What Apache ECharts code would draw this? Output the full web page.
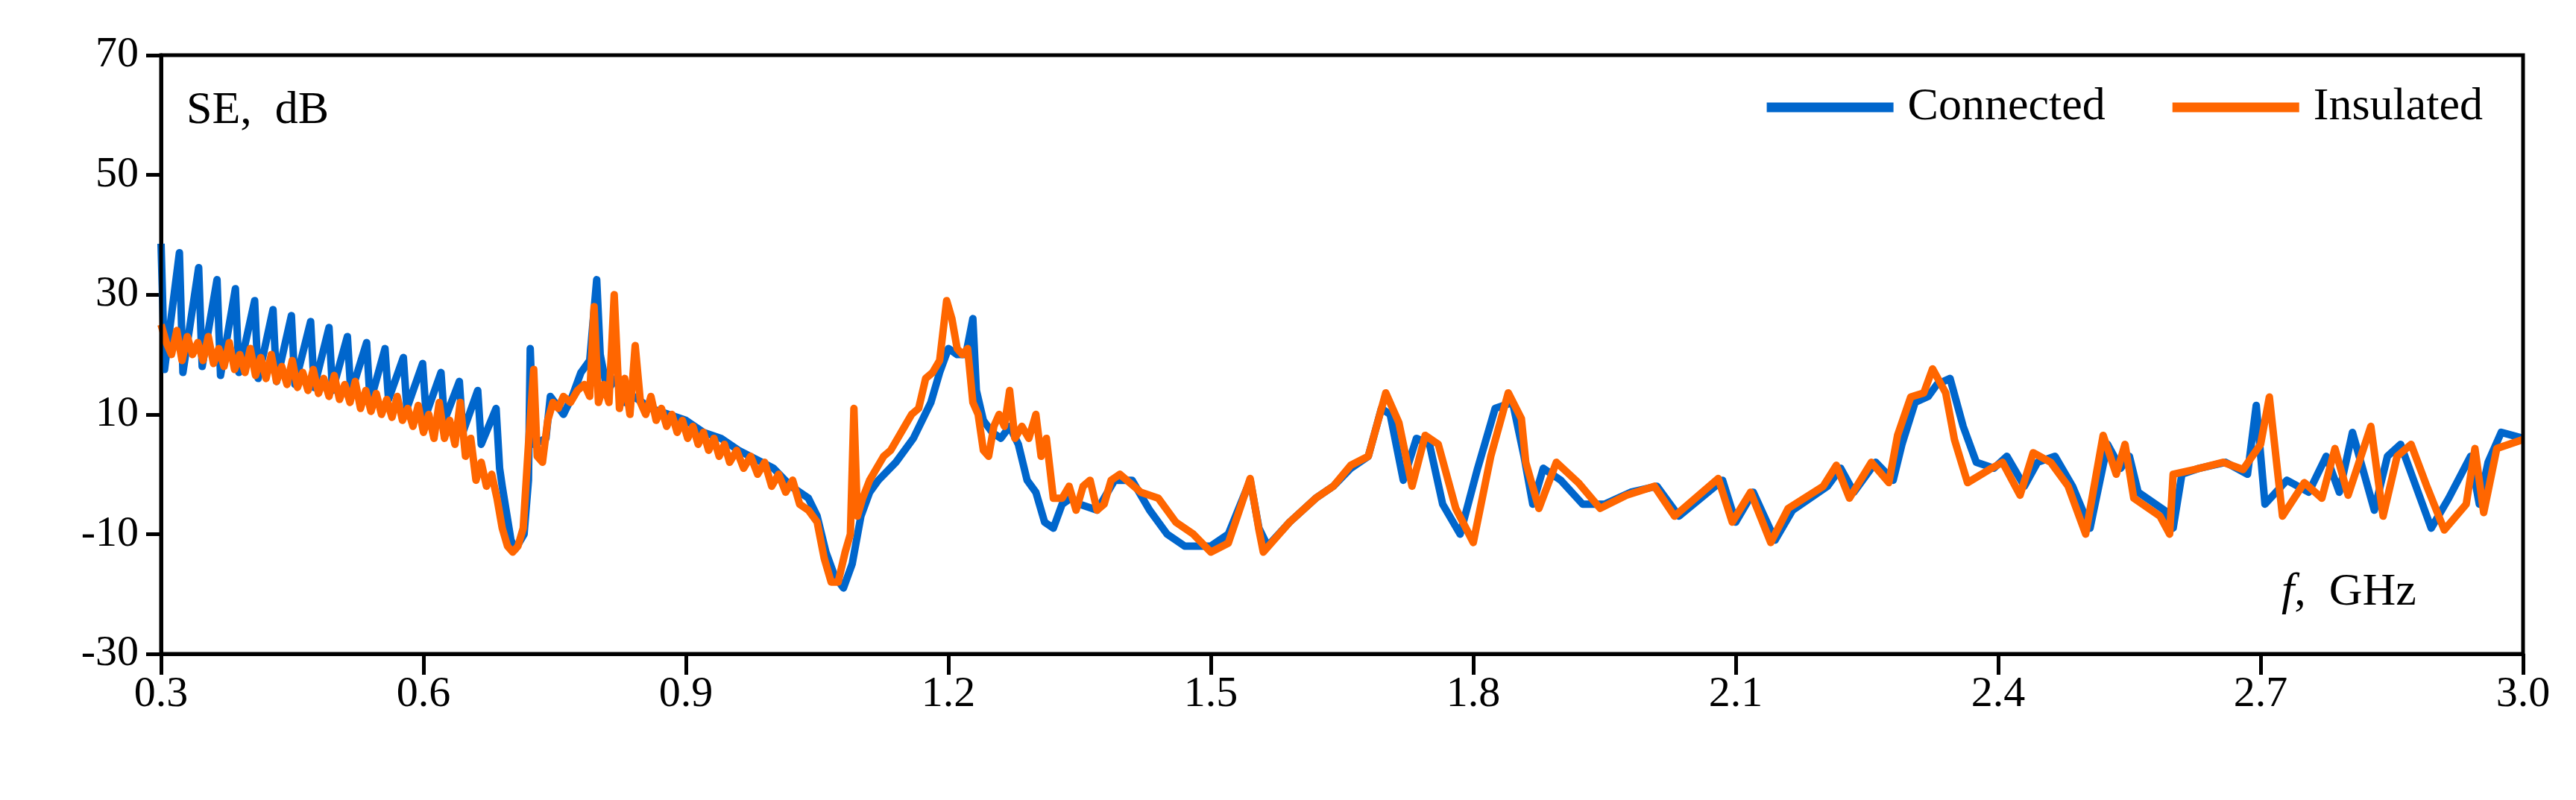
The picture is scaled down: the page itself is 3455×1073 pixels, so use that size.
<!DOCTYPE html>
<html>
<head>
<meta charset="utf-8">
<script src="https://cdn.jsdelivr.net/npm/echarts@6/dist/echarts.min.js"></script>
<style>html,body{margin:0;padding:0;background:#fff}#chart{width:3455px;height:1073px}</style>
</head>
<body>
<div id="chart"></div>
<script>
// 频率 GHz / 屏蔽效能 dB
const connectedF = [
  0.300,0.304,0.321,0.325,0.343,0.347,0.364,0.368,0.385,0.389,0.407,0.411,0.428,0.432,0.449,0.453,
  0.471,0.475,0.492,0.496,0.513,0.517,0.535,0.539,0.556,0.560,0.577,0.581,0.599,0.603,0.620,0.624,
  0.641,0.645,0.662,0.666,0.683,0.687,0.690,0.700,0.705,0.715,0.720,0.722,0.726,0.740,0.745,0.760,
  0.770,0.780,0.790,0.798,0.802,0.810,0.820,0.830,0.840,0.850,0.860,0.880,0.900,0.920,0.940,0.960,
  0.980,1.000,1.020,1.040,1.050,1.060,1.070,1.080,1.090,1.100,1.110,1.120,1.140,1.160,1.180,1.190,
  1.200,1.210,1.220,1.228,1.232,1.240,1.250,1.260,1.270,1.280,1.290,1.300,1.310,1.320,1.330,1.340,
  1.350,1.370,1.390,1.410,1.430,1.450,1.470,1.500,1.520,1.545,1.555,1.565,1.590,1.620,1.640,1.660,
  1.680,1.695,1.705,1.720,1.735,1.750,1.765,1.785,1.805,1.825,1.845,1.858,1.868,1.880,1.900,1.925,
  1.950,1.980,2.010,2.035,2.085,2.100,2.120,2.145,2.165,2.205,2.220,2.235,2.260,2.280,2.290,2.305,
  2.320,2.330,2.345,2.360,2.375,2.395,2.410,2.430,2.445,2.465,2.485,2.505,2.525,2.540,2.550,2.560,
  2.590,2.600,2.610,2.630,2.660,2.685,2.695,2.705,2.730,2.755,2.775,2.790,2.805,2.830,2.845,2.860,
  2.875,2.895,2.915,2.940,2.950,2.960,2.975,3.000
];
const connectedSE = [
  38.5,17.5,37,17,34.5,18,32.5,16.5,31,17,29,16,27.5,15.5,26.5,15,
  25.5,14.5,24.5,14,23,13.5,22,12,21,12.5,19.5,11,18.5,10,17,9,
  15.5,7,14,5,11,1,-2,-11,-12.5,-10,-1,21,5,6,13,10,
  13,17,19,32.5,20,14,16,12,13,12,11,10,9,7,6,4,
  2.5,1,-2,-4,-7,-13,-17,-19,-15,-7,-3,-1,2,6,12,17,
  21,20,20,26,14,9,7,6,8,5,-1,-3,-8,-9,-5,-4,
  -5,-6,-1,-1,-6,-10,-12,-12,-10,-1,-9,-12,-8,-4,-2,1,
  3,11,10,-1,6,5,-5,-10,1,11,12,3,-5,1,-1,-5,
  -5,-3,-2,-7,-1,-8,-3,-11,-6,-2,1,-3,2,-1,5,12,
  13,15,16,8,2,1,3,-2,2,3,-2,-9,5,1,3,-3,
  -6,-9,0,1,2,0,11.5,-5,-1,-3,3,-3,7,-6,3,5,
  -1,-9,-4,3,-5,2,7,6
];
const insulatedF = [
  0.300,0.306,0.312,0.318,0.324,0.330,0.336,0.342,0.348,0.354,0.360,0.366,0.372,0.378,0.384,0.390,
  0.396,0.402,0.408,0.414,0.420,0.426,0.432,0.438,0.444,0.450,0.456,0.462,0.468,0.474,0.480,0.486,
  0.492,0.498,0.504,0.510,0.516,0.522,0.528,0.534,0.540,0.546,0.552,0.558,0.564,0.570,0.576,0.582,
  0.588,0.594,0.600,0.606,0.612,0.618,0.624,0.630,0.636,0.642,0.648,0.654,0.660,0.666,0.672,0.678,
  0.684,0.690,0.696,0.702,0.708,0.714,0.720,0.726,0.730,0.736,0.742,0.748,0.754,0.760,0.768,0.776,
  0.784,0.790,0.795,0.800,0.806,0.812,0.818,0.824,0.830,0.836,0.842,0.848,0.854,0.860,0.866,0.872,
  0.878,0.884,0.890,0.896,0.902,0.908,0.914,0.920,0.926,0.932,0.938,0.944,0.950,0.958,0.966,0.974,
  0.982,0.990,0.998,1.006,1.014,1.022,1.030,1.040,1.050,1.058,1.066,1.074,1.082,1.088,1.092,1.096,
  1.102,1.110,1.118,1.126,1.134,1.142,1.150,1.158,1.166,1.174,1.182,1.190,1.198,1.204,1.210,1.216,
  1.222,1.228,1.234,1.240,1.246,1.252,1.258,1.264,1.270,1.276,1.284,1.292,1.300,1.306,1.312,1.320,
  1.330,1.338,1.346,1.354,1.362,1.370,1.378,1.386,1.396,1.420,1.440,1.460,1.480,1.500,1.520,1.545,
  1.555,1.560,1.590,1.620,1.640,1.660,1.680,1.700,1.715,1.730,1.745,1.760,1.780,1.800,1.820,1.840,
  1.855,1.860,1.875,1.895,1.920,1.945,1.975,2.007,2.030,2.080,2.096,2.117,2.140,2.160,2.200,2.215,
  2.230,2.255,2.275,2.285,2.300,2.315,2.325,2.340,2.350,2.365,2.390,2.405,2.425,2.440,2.460,2.480,
  2.500,2.520,2.535,2.545,2.555,2.585,2.596,2.600,2.625,2.657,2.680,2.700,2.710,2.725,2.750,2.770,
  2.785,2.800,2.826,2.840,2.856,2.872,2.890,2.910,2.935,2.945,2.955,2.970,3.000
];
const insulatedSE = [
  25,22,20,24,19,23,20,22,19,23,18.5,21,18,22,17.5,20,
  17,21,16.5,19.5,16,20,15.5,18,15,19,14.5,17,14,17.5,13.5,16,
  13,16.5,12.5,15,12,15.5,11,14,10.5,13.5,10,12.5,9.5,13,9,11,
  8,11.5,7,10,6,12,6,9,5,12,3,6,-1,2,-2,0,
  -4,-9,-12,-13,-12,-9,5,17.5,3,2,9,12,11,13,12,14,
  15,13,28,12,15,12,30,11,16,10,21.5,12,10,13,9,11,
  8,10,7,9,6,8,5,7,4,6,3,5,2,4,1,3,
  0,2,-2,0,-3,-1,-5,-6,-8,-14,-18,-18,-13,-10,11,-7,
  -4,-1,1,3,4,6,8,10,11,16,17,19,29,26,21,20,
  21,12,10,4,3,8,10,8,14,6,8,6,10,3,6,-4,
  -4,-2,-6,-2,-1,-6,-5,-1,0,-3,-4,-8,-10,-13,-11.5,-0.7,
  -9.3,-13,-8,-4,-2,1.5,3,13.6,8.6,-2,6.5,5,-5.7,-11.4,3,13.6,
  9.3,2,-5.7,2,-1.4,-5.7,-3.5,-2,-7,-0.7,-8,-3,-11.4,-5.7,-2,1.5,
  -4,2,-1.4,6.5,12.9,13.6,17.6,13.6,5.8,-1.4,0.8,2,-3.5,3.6,2,-2,
  -10,6.5,0,5,-4,-7,-10,0,0.8,2,0.8,5,12.9,-7,-1.4,-4,
  4.3,-3.5,8,-7,3,5,-2,-9.3,-5,4.3,-6.4,4.3,5.8
];
const xTicks = [0.3, 3.0];
const yRange = [-30, 70];
const seriesNames = ['Connected', 'Insulated'];
const colors = ['#0066cc', '#ff6600'];

const pair = (f, v) => f.map((x, i) => [x, v[i]]);
const font = 'Liberation Serif';

const chart = echarts.init(document.getElementById('chart'));
chart.setOption({
  animation: false,
  backgroundColor: '#fff',
  textStyle: { fontFamily: font },
  grid: { left: 216, right: 71, top: 74, bottom: 196 },
  legend: {
    data: seriesNames, right: 120, top: 108, icon: 'rect',
    itemWidth: 170, itemHeight: 13, itemGap: 90,
    textStyle: { fontFamily: font, fontSize: 62, color: '#000', padding: [0, 0, 0, 14] }
  },
  xAxis: {
    type: 'value', min: xTicks[0], max: xTicks[1], interval: 0.3,
    axisLine: { show: true, onZero: false, lineStyle: { color: '#000', width: 5 } },
    axisTick: { show: true, length: 28, lineStyle: { color: '#000', width: 5 } },
    axisLabel: { fontSize: 58, color: '#000', margin: 26, formatter: v => v.toFixed(1) },
    splitLine: { show: false }
  },
  yAxis: {
    type: 'value', min: yRange[0], max: yRange[1], interval: 20,
    axisLine: { show: true, lineStyle: { color: '#000', width: 5 } },
    axisTick: { show: true, length: 20, lineStyle: { color: '#000', width: 5 } },
    axisLabel: { fontSize: 58, color: '#000', margin: 30 },
    splitLine: { show: false }
  },
  graphic: [
    { type: 'rect', shape: { x: 216, y: 74, width: 3168, height: 803 }, style: { fill: 'none', stroke: '#000', lineWidth: 5 }, z: 100 },
    { type: 'text', left: 250, top: 118, style: { text: 'SE,  dB', font: '62px "Liberation Serif"', fill: '#000' } },
    { type: 'text', left: 3060, top: 764, style: { text: '{i|f},  GHz', font: '62px "Liberation Serif"', fill: '#000', rich: { i: { fontStyle: 'italic', fontSize: 62, fontFamily: font } } } }
  ],
  series: [
    { name: seriesNames[0], type: 'line', showSymbol: false, data: pair(connectedF, connectedSE), lineStyle: { color: colors[0], width: 10, join: 'round' }, itemStyle: { color: colors[0] } },
    { name: seriesNames[1], type: 'line', showSymbol: false, data: pair(insulatedF, insulatedSE), lineStyle: { color: colors[1], width: 10, join: 'round' }, itemStyle: { color: colors[1] } }
  ]
});
</script>
</body>
</html>
